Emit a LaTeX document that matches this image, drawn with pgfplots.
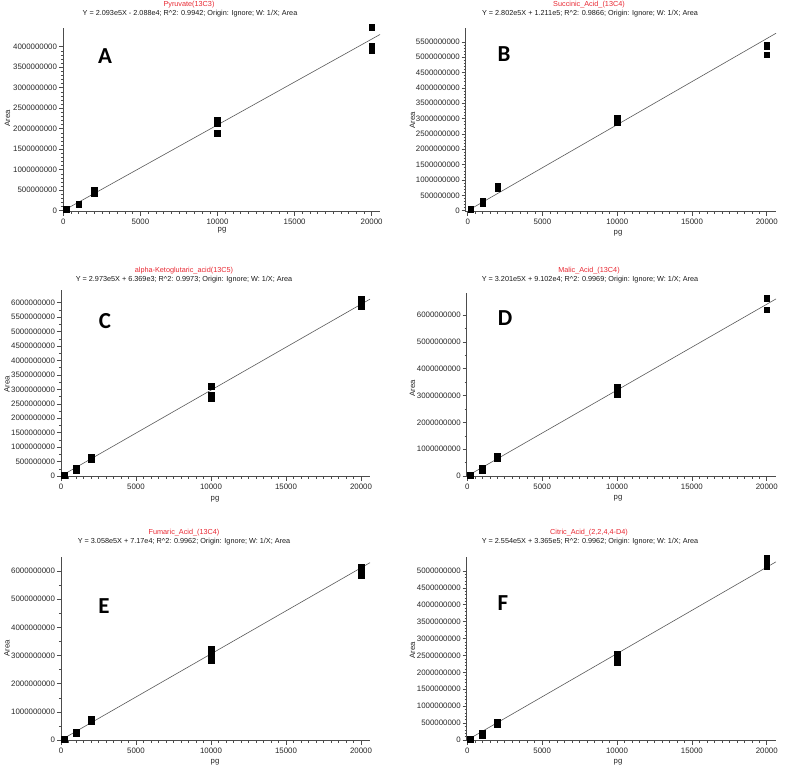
\documentclass[border=0pt]{standalone}
\usepackage{pgfplots}
\pgfplotsset{compat=1.18}
\usepackage{fontspec}
\setmainfont{Liberation Sans}
\newfontfamily\carlito{Carlito}
\definecolor{titlered}{RGB}{232,40,50}
\pgfplotsset{
  calib/.style={
    scale only axis, axis lines=left, scaled ticks=false,
    axis line style={-, black!70, line width=0.6bp},
    every tick/.style={black!70, line width=0.5bp},
    tick align=outside, major tick length=4bp, minor tick length=2.2bp,
    tick label style={font=\fontsize{7.9}{9}\selectfont, text=black!85},
    yticklabel style={xshift=1.5bp},
    xtick={0,5000,10000,15000,20000},
    xticklabels={0,5000,10000,15000,20000},
    minor x tick num=9,
    clip=false,
  },
  pts/.style={only marks, mark=square*, mark size=2.8bp, black, mark options={draw=black, fill=black}},
  fitline/.style={no marks, black!65, line width=0.6bp},
}
\newcommand{\ttl}[3]{\node[font=\fontsize{7.3}{8}\selectfont, text=titlered] at (#1bp,-#2bp) {#3};}
\newcommand{\eqn}[3]{\node[font=\fontsize{7.3}{8}\selectfont, text=black!90] at (#1bp,-#2bp) {#3};}
\newcommand{\lab}[3]{\node[font=\fontsize{7.8}{8}\selectfont, text=black!85] at (#1bp,-#2bp) {#3};}
\newcommand{\vlab}[3]{\node[rotate=90, font=\fontsize{7.8}{8}\selectfont, text=black!85] at (#1bp,-#2bp) {#3};}
\newcommand{\panelletter}[3]{\node[font=\carlito\bfseries\fontsize{23}{23}\selectfont] at (#1bp,-#2bp) {#3};}
\begin{document}
\begin{tikzpicture}
\path[use as bounding box] (0,0) rectangle (802bp,-766bp);

% ---------- A ----------
\begin{axis}[calib, at={(63bp,-211.5bp)}, anchor=south west,
  width=317bp, height=183.2bp,
  xmin=-20, xmax=20540, ymin=-0.02e9, ymax=4.45e9,
  ytick={0,0.5e9,1e9,1.5e9,2e9,2.5e9,3e9,3.5e9,4e9},
  yticklabels={0,500000000,1000000000,1500000000,2000000000,2500000000,3000000000,3500000000,4000000000},
  minor y tick num=4]
\addplot[fitline] coordinates {(200,4.18e7) (20540,4.299e9)};
\addplot[pts] coordinates {
(200,0.03e9) (200,0.025e9) (200,0.035e9)
(1000,0.17e9) (1000,0.16e9) (1000,0.15e9)
(2000,0.50e9) (2000,0.46e9) (2000,0.43e9)
(10000,2.21e9) (10000,2.14e9) (10000,1.89e9)
(20000,4.47e9) (20000,4.03e9) (20000,3.92e9)};
\end{axis}

% ---------- B ----------
\begin{axis}[calib, at={(465.7bp,-211.5bp)}, anchor=south west,
  width=310.3bp, height=183.2bp,
  xmin=-134, xmax=20622, ymin=-0.026e9, ymax=5.94e9,
  ytick={0,0.5e9,1e9,1.5e9,2e9,2.5e9,3e9,3.5e9,4e9,4.5e9,5e9,5.5e9},
  yticklabels={0,500000000,1000000000,1500000000,2000000000,2500000000,3000000000,3500000000,4000000000,4500000000,5000000000,5500000000},
  minor y tick num=4]
\addplot[fitline] coordinates {(200,5.616e7) (20622,5.7784e9)};
\addplot[pts] coordinates {
(200,0.04e9) (200,0.035e9) (200,0.03e9)
(1000,0.31e9) (1000,0.28e9) (1000,0.25e9)
(2000,0.80e9) (2000,0.76e9) (2000,0.72e9)
(10000,3.03e9) (10000,2.95e9) (10000,2.86e9)
(20000,5.38e9) (20000,5.36e9) (20000,5.08e9)};
\end{axis}

% ---------- C ----------
\begin{axis}[calib, at={(61bp,-476.5bp)}, anchor=south west,
  width=309bp, height=186.5bp,
  xmin=0, xmax=20600, ymin=-0.017e9, ymax=6.44e9,
  ytick={0,0.5e9,1e9,1.5e9,2e9,2.5e9,3e9,3.5e9,4e9,4.5e9,5e9,5.5e9,6e9},
  yticklabels={0,500000000,1000000000,1500000000,2000000000,2500000000,3000000000,3500000000,4000000000,4500000000,5000000000,5500000000,6000000000},
  minor y tick num=1]
\addplot[fitline] coordinates {(200,5.946e7) (20600,6.124e9)};
\addplot[pts] coordinates {
(200,0.04e9) (200,0.035e9) (200,0.03e9)
(1000,0.27e9) (1000,0.24e9) (1000,0.21e9)
(2000,0.66e9) (2000,0.62e9) (2000,0.58e9)
(10000,3.10e9) (10000,2.82e9) (10000,2.68e9)
(20000,6.13e9) (20000,6.00e9) (20000,5.88e9)};
\end{axis}

% ---------- D ----------
\begin{axis}[calib, at={(466.7bp,-476.5bp)}, anchor=south west,
  width=309.3bp, height=183.2bp,
  xmin=-40, xmax=20620, ymin=-0.019e9, ymax=6.81e9,
  ytick={0,1e9,2e9,3e9,4e9,5e9,6e9},
  yticklabels={0,1000000000,2000000000,3000000000,4000000000,5000000000,6000000000},
  minor y tick num=1]
\addplot[fitline] coordinates {(200,6.4e7) (20620,6.6005e9)};
\addplot[pts] coordinates {
(200,0.05e9) (200,0.045e9) (200,0.04e9)
(1000,0.28e9) (1000,0.25e9) (1000,0.22e9)
(2000,0.74e9) (2000,0.70e9) (2000,0.66e9)
(10000,3.33e9) (10000,3.18e9) (10000,3.05e9)
(20000,6.63e9) (20000,6.61e9) (20000,6.20e9)};
\end{axis}

% ---------- E ----------
\begin{axis}[calib, at={(61bp,-740.5bp)}, anchor=south west,
  width=309bp, height=183.2bp,
  xmin=0, xmax=20600, ymin=-0.018e9, ymax=6.49e9,
  ytick={0,1e9,2e9,3e9,4e9,5e9,6e9},
  yticklabels={0,1000000000,2000000000,3000000000,4000000000,5000000000,6000000000},
  minor y tick num=1]
\addplot[fitline] coordinates {(200,6.12e7) (20600,6.2995e9)};
\addplot[pts] coordinates {
(200,0.04e9) (200,0.035e9) (200,0.03e9)
(1000,0.30e9) (1000,0.27e9) (1000,0.25e9)
(2000,0.74e9) (2000,0.70e9) (2000,0.66e9)
(10000,3.24e9) (10000,3.03e9) (10000,2.82e9)
(20000,6.13e9) (20000,6.00e9) (20000,5.85e9)};
\end{axis}

% ---------- F ----------
\begin{axis}[calib, at={(466.7bp,-740.5bp)}, anchor=south west,
  width=309.3bp, height=183.2bp,
  xmin=-40, xmax=20620, ymin=-0.015e9, ymax=5.40e9,
  ytick={0,0.5e9,1e9,1.5e9,2e9,2.5e9,3e9,3.5e9,4e9,4.5e9,5e9},
  yticklabels={0,500000000,1000000000,1500000000,2000000000,2500000000,3000000000,3500000000,4000000000,4500000000,5000000000},
  minor y tick num=4]
\addplot[fitline] coordinates {(200,5.14e7) (20620,5.2667e9)};
\addplot[pts] coordinates {
(200,0.03e9) (200,0.025e9) (200,0.02e9)
(1000,0.20e9) (1000,0.17e9) (1000,0.15e9)
(2000,0.52e9) (2000,0.49e9) (2000,0.46e9)
(10000,2.55e9) (10000,2.42e9) (10000,2.30e9)
(20000,5.38e9) (20000,5.20e9) (20000,5.12e9)};
\end{axis}

% titles
\ttl{189}{4.5}{Pyruvate(13C3)}
\eqn{190}{13.5}{Y = 2.093e5X - 2.088e4; R\textasciicircum 2: 0.9942; Origin: Ignore; W: 1/X; Area}
\ttl{589}{4.5}{Succinic\_Acid\_(13C4)}
\eqn{590}{13.5}{Y = 2.802e5X + 1.211e5; R\textasciicircum 2: 0.9866; Origin: Ignore; W: 1/X; Area}
\ttl{184}{271}{alpha-Ketoglutaric\_acid(13C5)}
\eqn{184}{279.5}{Y = 2.973e5X + 6.369e3; R\textasciicircum 2: 0.9973; Origin: Ignore; W: 1/X; Area}
\ttl{589}{271}{Malic\_Acid\_(13C4)}
\eqn{590}{279.5}{Y = 3.201e5X + 9.102e4; R\textasciicircum 2: 0.9969; Origin: Ignore; W: 1/X; Area}
\ttl{184}{533}{Fumaric\_Acid\_(13C4)}
\eqn{184}{542}{Y = 3.058e5X + 7.17e4; R\textasciicircum 2: 0.9962; Origin: Ignore; W: 1/X; Area}
\ttl{589}{533}{Citric\_Acid\_(2,2,4,4-D4)}
\eqn{590}{542}{Y = 2.554e5X + 3.365e5; R\textasciicircum 2: 0.9962; Origin: Ignore; W: 1/X; Area}

% axis labels
\lab{222}{230.5}{pg}
\lab{618}{233}{pg}
\lab{215}{499}{pg}
\lab{618}{498}{pg}
\lab{215}{762}{pg}
\lab{618}{762}{pg}
\vlab{7.5}{118}{Area}
\vlab{412.5}{120}{Area}
\vlab{7}{384}{Area}
\vlab{412.5}{388}{Area}
\vlab{7}{648}{Area}
\vlab{412.5}{650}{Area}

% panel letters
\panelletter{105}{56}{A}
\panelletter{504}{54}{B}
\panelletter{105}{321}{C}
\panelletter{505}{318}{D}
\panelletter{104}{606}{E}
\panelletter{503}{603}{F}
\end{tikzpicture}
\end{document}
